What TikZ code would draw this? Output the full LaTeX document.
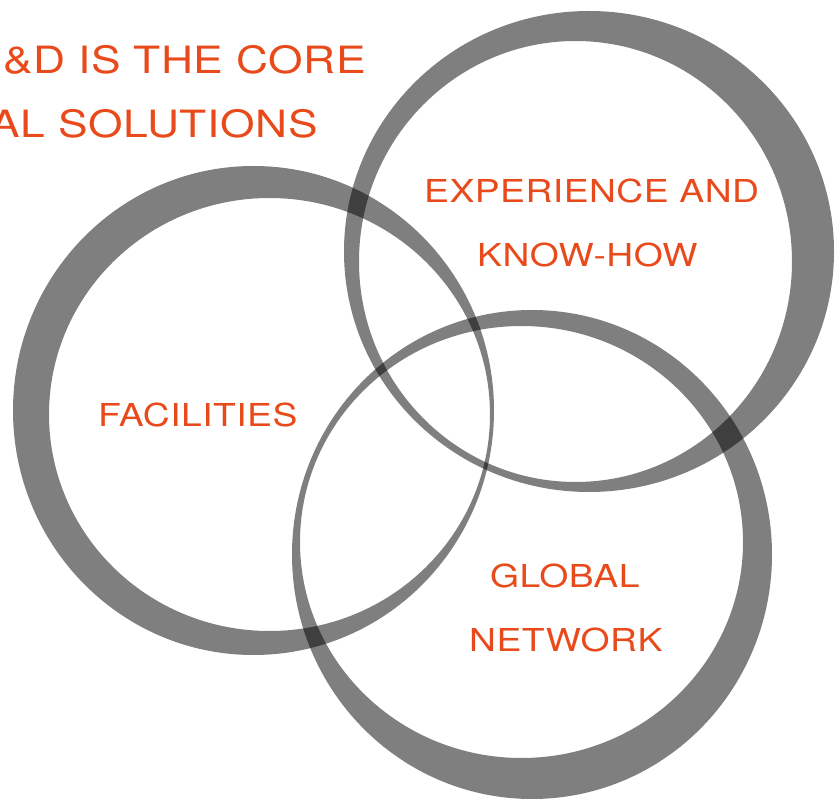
\documentclass[tikz,border=0pt]{standalone}
\usepackage{fontspec}
\setmainfont{TeX Gyre Heros}[FakeStretch=1.18, LetterSpace=1.5]
\definecolor{labelred}{RGB}{232,74,27}
\tikzset{
  ring/.style={fill=black, fill opacity=0.5, even odd rule},
  bigtext/.style={inner sep=0pt, text=labelred, font=\fontsize{37.6}{44}\selectfont},
  lbl/.style={inner sep=0pt, text=labelred, font=\fontsize{31.6}{38}\selectfont},
}
\begin{document}
\begin{tikzpicture}[x=1pt,y=-1pt]
\useasboundingbox (0,0) rectangle (836,799);
% ring A (top right)
\fill[ring] (589,251.5) ellipse [x radius=245pt, y radius=240.5pt]
            (575.5,261.5) ellipse [x radius=216.5pt, y radius=220.5pt];
% ring B (left)
\fill[ring] (253.5,410.5) ellipse [x radius=240.5pt, y radius=244.5pt]
            (269.5,414.5) ellipse [x radius=220.5pt, y radius=216.5pt];
% ring C (bottom)
\fill[ring] (532,554.5) ellipse [x radius=240pt, y radius=244.5pt]
            (521.5,542) ellipse [x radius=221.5pt, y radius=216pt];
% texts
\node[bigtext, anchor=base east] (t1) at (366,74) {\&D IS THE CORE};
\node[bigtext, anchor=base east] (t2) at (318,138) {AL SOLUTIONS};
\node[lbl, anchor=base west] (e1) at (424,203) {EXPERIENCE AND};
\node[lbl, anchor=base west] (e2) at (477,267) {KNOW-HOW};
\node[lbl, anchor=base west] (f1) at (98,427) {FACILITIES};
\node[lbl, anchor=base west] (g1) at (490,587) {GLOBAL};
\node[lbl, anchor=base west] (g2) at (469,651) {NETWORK};
\end{tikzpicture}
\end{document}
